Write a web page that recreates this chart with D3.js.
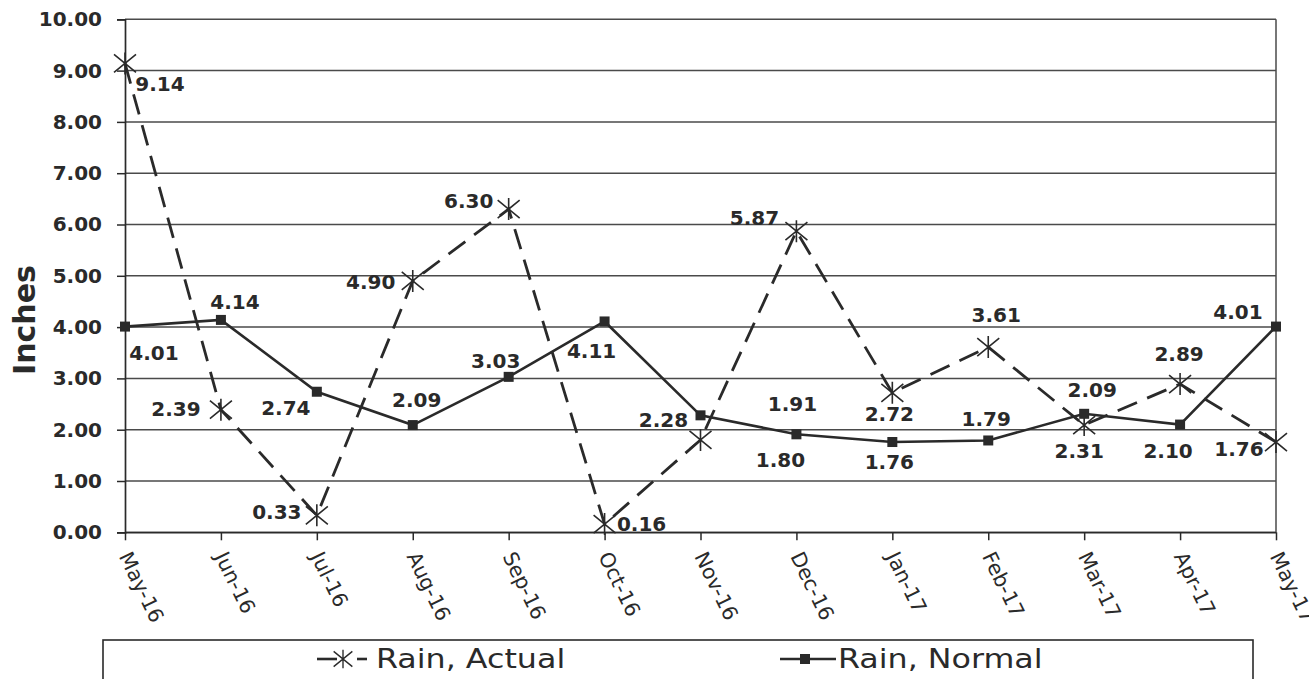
<!DOCTYPE html>
<html>
<head>
<meta charset="utf-8">
<script src="https://cdnjs.cloudflare.com/ajax/libs/d3/7.8.5/d3.min.js"></script>
<style>
  html, body { margin: 0; padding: 0; background: #fff; }
  svg { display: block; }
</style>
</head>
<body>
<svg id="chart" width="1309" height="679"></svg>
<script>
// ---- data ----
const months = ["May-16","Jun-16","Jul-16","Aug-16","Sep-16","Oct-16","Nov-16","Dec-16","Jan-17","Feb-17","Mar-17","Apr-17","May-17"];
const rainActual = [9.14, 2.39, 0.33, 4.90, 6.30, 0.16, 1.80, 5.87, 2.72, 3.61, 2.09, 2.89, 1.76];
const rainNormal = [4.01, 4.14, 2.74, 2.09, 3.03, 4.11, 2.28, 1.91, 1.76, 1.79, 2.31, 2.10, 4.01];
const yTickValues = [0, 1, 2, 3, 4, 5, 6, 7, 8, 9, 10];
const seriesNames = ["Rain, Actual", "Rain, Normal"];
const yAxisTitle = "Inches";

// ---- label placement (layout only, offsets from each point) ----
const actualLabelOffsets = [[35,21],[-45,-1],[-40,-3],[-42,1],[-40,-8],[37,0],[80,20],[-42,-13],[-3,21],[8,-32],[8,-35],[-1,-30],[-37,7]];
const normalLabelOffsets = [[29,26],[14,-18],[-31,16],[4,-25],[-13,-16],[-13,30],[-37,5],[-4,-30],[-3,20],[-2,-21],[-5,37],[-12,26],[-38,-15]];

// ---- layout ----
const ink = "#2a2a2a";
const plot = { left: 125, right: 1276, top: 19.3, bottom: 532.3 };
const svg = d3.select("#chart");

const x = d3.scalePoint().domain(months).range([plot.left, plot.right]);
const y = d3.scaleLinear().domain([0, 10]).range([plot.bottom, plot.top]);
const fmt = d3.format(".2f");

// gridlines
svg.append("g").attr("class", "grid")
  .selectAll("line").data(yTickValues).join("line")
  .attr("x1", plot.left).attr("x2", plot.right)
  .attr("y1", d => y(d)).attr("y2", d => y(d))
  .attr("stroke", "#4a4a4a").attr("stroke-width", 1.5);

// right border
svg.append("line")
  .attr("x1", plot.right).attr("x2", plot.right)
  .attr("y1", y(10)).attr("y2", y(0))
  .attr("stroke", "#4a4a4a").attr("stroke-width", 1.5);

// y axis
const yAxis = svg.append("g")
  .attr("transform", `translate(${plot.left},0)`)
  .call(d3.axisLeft(y).tickValues(yTickValues).tickFormat(fmt).tickSize(8).tickPadding(15));
yAxis.select(".domain").attr("stroke", ink).attr("stroke-width", 1.7);
yAxis.selectAll(".tick line").attr("stroke", ink).attr("stroke-width", 1.5);
yAxis.selectAll(".tick text")
  .attr("fill", ink)
  .style("font-family", "'DejaVu Sans', sans-serif")
  .style("font-weight", "bold")
  .style("font-size", "20px");

// x axis
const xAxis = svg.append("g")
  .attr("transform", `translate(0,${plot.bottom})`)
  .call(d3.axisBottom(x).tickSize(8).tickSizeOuter(0));
xAxis.select(".domain").attr("stroke", ink).attr("stroke-width", 1.5);
xAxis.selectAll(".tick line").attr("stroke", ink).attr("stroke-width", 1.5);
xAxis.selectAll(".tick text")
  .attr("fill", ink)
  .attr("text-anchor", "start")
  .attr("dy", null)
  .attr("y", null)
  .attr("transform", "translate(-7,24) rotate(64)")
  .style("font-family", "'DejaVu Sans', sans-serif")
  .style("font-size", "20.5px");

// y title
svg.append("text")
  .attr("transform", "translate(35,320) rotate(-90)")
  .attr("text-anchor", "middle")
  .attr("fill", ink)
  .style("font-family", "'DejaVu Sans', sans-serif")
  .style("font-weight", "bold")
  .style("font-size", "30px")
  .text(yAxisTitle);

// lines
const lineGen = d3.line().x((d, i) => x(months[i])).y(d => y(d));

svg.append("path").datum(rainNormal)
  .attr("d", lineGen).attr("fill", "none")
  .attr("stroke", ink).attr("stroke-width", 2.6);

svg.append("path").datum(rainActual)
  .attr("d", lineGen).attr("fill", "none")
  .attr("stroke", ink).attr("stroke-width", 2.8)
  .attr("stroke-dasharray", "21,11");

// markers
const starPath = "M-11,-9L11,9M-11,9L11,-9M0,-11L0,11";
svg.append("g").selectAll("path").data(rainActual).join("path")
  .attr("transform", (d, i) => `translate(${x(months[i])},${y(d)})`)
  .attr("d", starPath).attr("fill", "none")
  .attr("stroke", ink).attr("stroke-width", 1.6);

svg.append("g").selectAll("rect").data(rainNormal).join("rect")
  .attr("x", (d, i) => x(months[i]) - 5)
  .attr("y", d => y(d) - 5)
  .attr("width", 10).attr("height", 10)
  .attr("fill", ink);

// data labels
function labels(values, offsets) {
  svg.append("g").selectAll("text").data(values).join("text")
    .attr("x", (d, i) => x(months[i]) + offsets[i][0])
    .attr("y", (d, i) => y(d) + offsets[i][1])
    .attr("text-anchor", "middle")
    .attr("dominant-baseline", "central")
    .attr("fill", ink)
    .style("font-family", "'DejaVu Sans', sans-serif")
    .style("font-weight", "bold")
    .style("font-size", "20px")
    .text(d => fmt(d));
}
labels(rainActual, actualLabelOffsets);
labels(rainNormal, normalLabelOffsets);

// legend
const legend = svg.append("g");
legend.append("rect")
  .attr("x", 103).attr("y", 640).attr("width", 1150).attr("height", 60)
  .attr("fill", "#fff").attr("stroke", ink).attr("stroke-width", 1.6);

// actual entry
const la = legend.append("g").attr("transform", "translate(317,659)");
la.append("line").attr("x1", 0).attr("x2", 20).attr("y1", 0).attr("y2", 0)
  .attr("stroke", ink).attr("stroke-width", 2.6);
la.append("path").attr("d", starPath).attr("transform", "translate(26,0) scale(0.85)")
  .attr("fill", "none").attr("stroke", ink).attr("stroke-width", 1.6);
la.append("line").attr("x1", 40).attr("x2", 50).attr("y1", 0).attr("y2", 0)
  .attr("stroke", ink).attr("stroke-width", 2.6);
la.append("text").attr("x", 0).attr("y", 0)
  .attr("transform", "translate(59,9) scale(1.22,1)")
  .attr("fill", ink)
  .style("font-family", "'DejaVu Sans', sans-serif")
  .style("font-size", "26px")
  .text(seriesNames[0]);

// normal entry
const ln = legend.append("g").attr("transform", "translate(780,659)");
ln.append("line").attr("x1", 0).attr("x2", 56).attr("y1", 0).attr("y2", 0)
  .attr("stroke", ink).attr("stroke-width", 2.6);
ln.append("rect").attr("x", 20).attr("y", -5).attr("width", 10).attr("height", 10)
  .attr("fill", ink);
ln.append("text").attr("x", 0).attr("y", 0)
  .attr("transform", "translate(58,9) scale(1.22,1)")
  .attr("fill", ink)
  .style("font-family", "'DejaVu Sans', sans-serif")
  .style("font-size", "26px")
  .text(seriesNames[1]);
</script>
</body>
</html>
